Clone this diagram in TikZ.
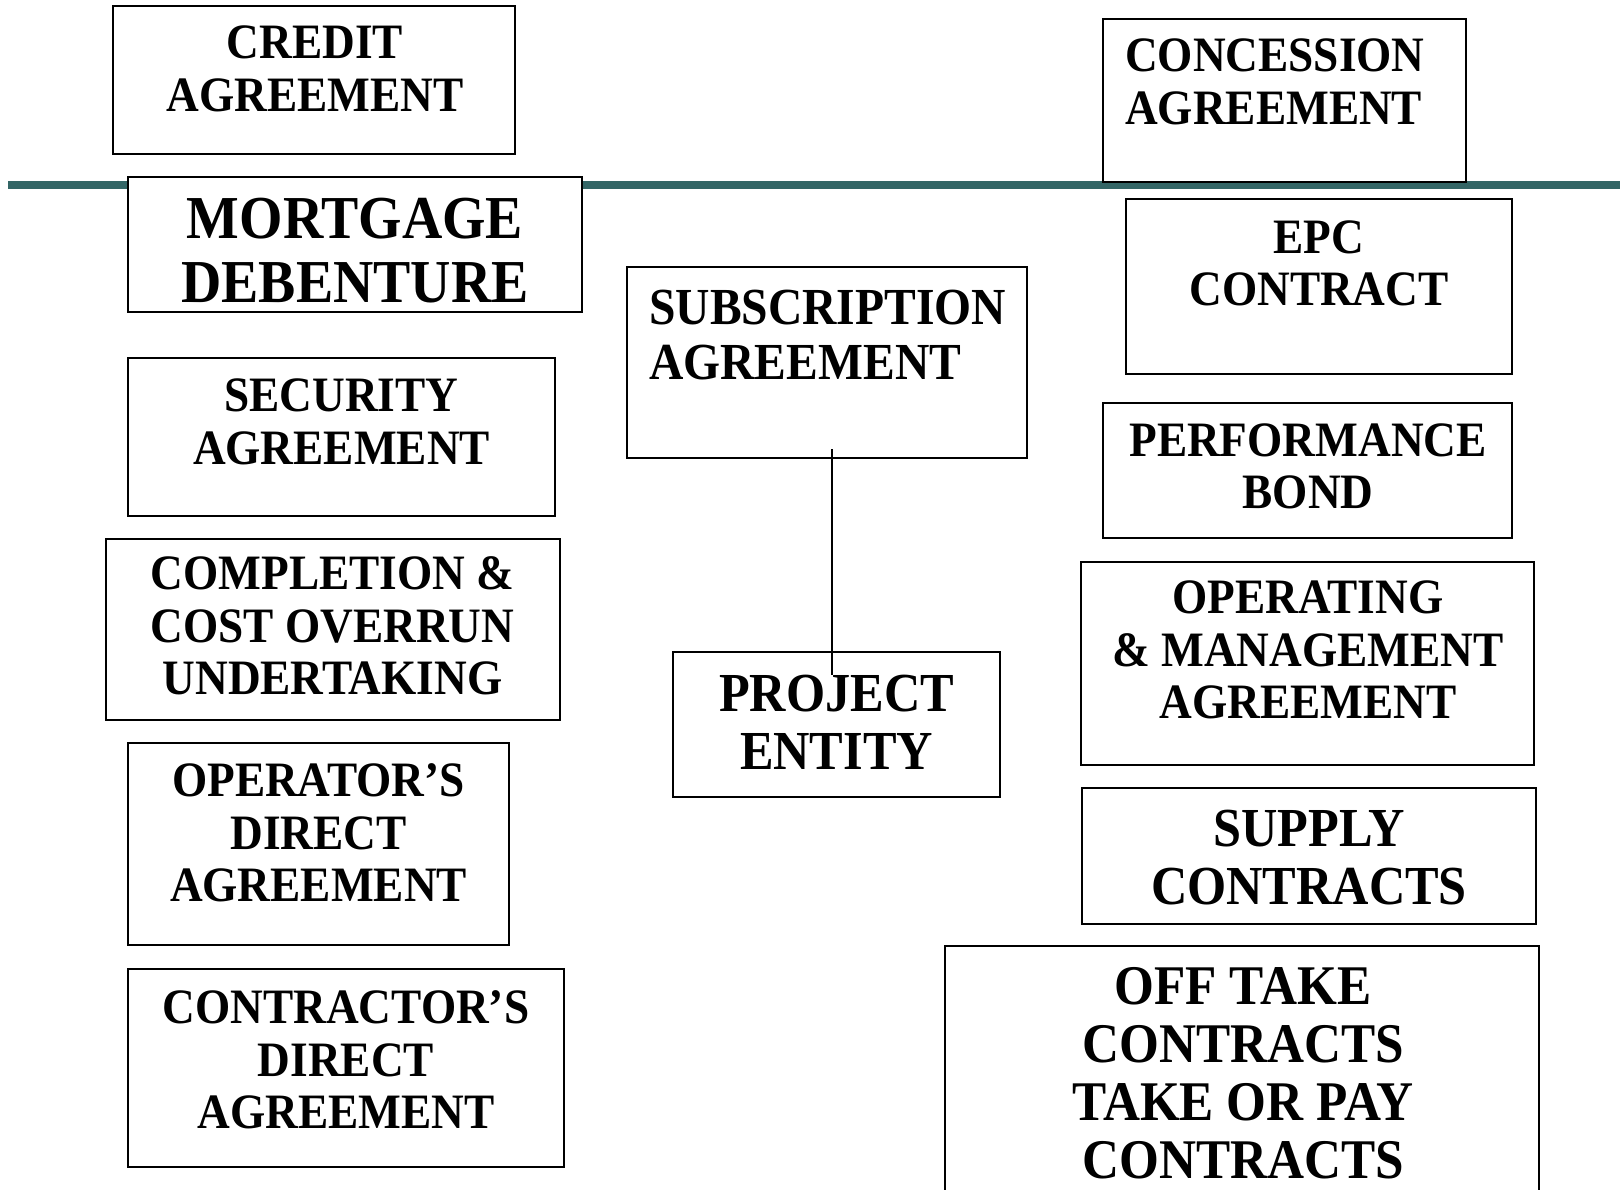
\documentclass[tikz,border=0pt]{standalone}
\usepackage{fontspec}
\setmainfont{Liberation Serif}[FakeStretch=0.915]
\definecolor{rulecol}{HTML}{336666}
\tikzset{
	box/.style={draw, line width=2pt, fill=white, inner sep=0pt},
	lbl/.style={font=\bfseries\fontsize{49.5}{52.5}\selectfont, align=center, inner sep=0pt},
	lblmid/.style={lbl, font=\bfseries\fontsize{52}{55}\selectfont},
	lblbig/.style={lbl, font=\bfseries\fontsize{55}{58}\selectfont},
	lblhuge/.style={lbl, font=\bfseries\fontsize{61}{64}\selectfont}
}
\begin{document}
\begin{tikzpicture}[x=1pt, y=-1pt]
	\useasboundingbox (0,0) rectangle (1620,1189);
	%dividing rule
	\draw[rulecol, line width=8pt] (8,185) -- (1620,185);

	%left column
	\node (credit) at (314,80) [box, minimum width=402pt, minimum height=148pt]{};
	\node (creditlbl) at (315,69) [lbl]{CREDIT\\AGREEMENT};
	\node (mortgage) at (355,244.5) [box, minimum width=454pt, minimum height=135pt]{};
	\node (mortgagelbl) at (355,251) [lblhuge]{MORTGAGE\\DEBENTURE};
	\node (security) at (341.5,437) [box, minimum width=427pt, minimum height=158pt]{};
	\node (securitylbl) at (341.5,422) [lbl]{SECURITY\\AGREEMENT};
	\node (completion) at (332.5,629.5) [box, minimum width=454pt, minimum height=181pt]{};
	\node (completionlbl) at (332.5,626) [lbl]{COMPLETION \&\\COST OVERRUN\\UNDERTAKING};
	\node (operator) at (318.5,844) [box, minimum width=381pt, minimum height=202pt]{};
	\node (operatorlbl) at (318.5,833) [lbl]{OPERATOR’S\\DIRECT\\AGREEMENT};
	\node (contractor) at (346,1068) [box, minimum width=436pt, minimum height=198pt]{};
	\node (contractorlbl) at (346,1060) [lbl]{CONTRACTOR’S\\DIRECT\\AGREEMENT};

	%middle column
	\node (subscr) at (827,362.5) [box, minimum width=400pt, minimum height=191pt]{};
	\node (subscrlbl) at (649,335) [lblmid, align=left, anchor=west]{SUBSCRIPTION\\AGREEMENT};
	\node (project) at (836.5,724.5) [box, minimum width=327pt, minimum height=145pt]{};
	\node (projectlbl) at (836.5,722.5) [lblbig]{PROJECT\\ENTITY};
	\coordinate (joint) at (832,675);
	\draw[line width=2pt] ([yshift=10pt]subscr.south -| joint) -- (joint);

	%right column
	\node (concession) at (1284.5,100.5) [box, minimum width=363pt, minimum height=163pt]{};
	\node (concessionlbl) at (1125,82) [lbl, align=left, anchor=west]{CONCESSION\\AGREEMENT};
	\node (epc) at (1319,286.5) [box, minimum width=386pt, minimum height=175pt]{};
	\node (epclbl) at (1319,263.5) [lbl]{EPC\\CONTRACT};
	\node (perform) at (1307.5,470.5) [box, minimum width=409pt, minimum height=135pt]{};
	\node (performlbl) at (1308,466.5) [lbl]{PERFORMANCE\\BOND};
	\node (operating) at (1307.5,663.5) [box, minimum width=453pt, minimum height=203pt]{};
	\node (operatinglbl) at (1308,650) [lbl]{OPERATING\\\& MANAGEMENT\\AGREEMENT};
	\node (supply) at (1308.5,856) [box, minimum width=454pt, minimum height=136pt]{};
	\node (supplylbl) at (1309,858) [lblbig]{SUPPLY\\CONTRACTS};
	\node (offtake) at (1242,1093) [box, minimum width=594pt, minimum height=294pt]{};
	\node (offtakelbl) at (1243,1073) [lblbig, font=\bfseries\fontsize{56}{58}\selectfont]{OFF TAKE\\CONTRACTS\\TAKE OR PAY\\CONTRACTS};
\end{tikzpicture}
\end{document}
